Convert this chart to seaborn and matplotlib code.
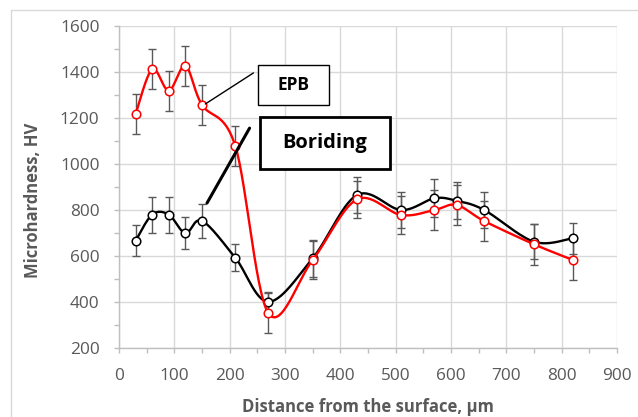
import numpy as np
import pandas as pd
import matplotlib
matplotlib.use("Agg")
import matplotlib.pyplot as plt
import seaborn as sns
from matplotlib.patches import Rectangle
from matplotlib.ticker import MultipleLocator

# ---- data ----
distance = [30, 60, 90, 120, 150, 210, 270, 350, 430, 510, 570, 610, 660, 750, 820]
boriding = [666, 780, 780, 699, 753, 593, 401, 590, 865, 800, 851, 840, 800, 662, 677]
boriding_err = [67, 78, 78, 69, 74, 58, 41, 80, 80, 80, 82, 80, 80, 75, 68]
epb = [1217, 1412, 1319, 1426, 1257, 1080, 351, 583, 846, 778, 800, 822, 752, 651, 583]
epb_err = [87, 87, 87, 87, 87, 87, 86, 82, 82, 82, 88, 87, 88, 88, 88]

x_ticks = [0, 100, 200, 300, 400, 500, 600, 700, 800, 900]
y_ticks = [200, 400, 600, 800, 1000, 1200, 1400, 1600]
x_label = "Distance from the surface, µm"
y_label = "Microhardness, HV"


def smooth(xs, ys, n=30):
    """Excel-style smoothed line (uniform Catmull-Rom / Bezier, parametric)."""
    P = np.column_stack([xs, ys]).astype(float)
    out = []
    m = len(P)
    for i in range(m - 1):
        p0 = P[i - 1] if i > 0 else P[i]
        p1 = P[i]
        p2 = P[i + 1]
        p3 = P[i + 2] if i + 2 < m else P[i + 1]
        c1 = p1 + (p2 - p0) / 6.0
        c2 = p2 - (p3 - p1) / 6.0
        t = np.linspace(0, 1, n, endpoint=(i == m - 2))[:, None]
        seg = ((1 - t) ** 3) * p1 + 3 * ((1 - t) ** 2) * t * c1 + 3 * (1 - t) * t ** 2 * c2 + t ** 3 * p2
        out.append(seg)
    out = np.vstack(out)
    return out[:, 0], out[:, 1]


sns.set_theme(style="white")
plt.rcParams['font.family'] = ['Open Sans', 'DejaVu Sans']

fig = plt.figure(figsize=(6.38, 4.17), dpi=100)
ax = fig.add_axes([119 / 638, 1 - 348 / 417, (617 - 119) / 638, (348 - 26) / 417])

grid_c = "#D9D9D9"
text_c = "#595959"
err_c = "#595959"

series = [("Boriding", boriding, boriding_err, "black"), ("EPB", epb, epb_err, "#FF0000")]

for name, vals, errs, col in series:
    ax.errorbar(distance, vals, yerr=errs, fmt="none", ecolor=err_c, elinewidth=1.0,
                capsize=3, capthick=1.0, zorder=3)

for i, (name, vals, errs, col) in enumerate(series):
    sx, sy = smooth(distance, vals)
    df = pd.DataFrame({"x": sx, "y": sy})
    sns.lineplot(data=df, x="x", y="y", sort=False, estimator=None, color=col,
                 linewidth=1.7, ax=ax, zorder=4 + 2 * i)
    pts = pd.DataFrame({"x": distance, "y": vals})
    sns.scatterplot(data=pts, x="x", y="y", ax=ax, s=38, facecolor="white",
                    edgecolor=col, linewidth=1.1, zorder=5 + 2 * i)

ax.set_xlim(0, 900)
ax.set_ylim(200, 1600)
ax.set_xticks(x_ticks)
ax.set_yticks(y_ticks)
ax.xaxis.set_minor_locator(MultipleLocator(50))
ax.yaxis.set_minor_locator(MultipleLocator(100))
ax.grid(True, which="major", color=grid_c, linewidth=1.0)
ax.set_axisbelow(True)
for s in ["top", "right"]:
    ax.spines[s].set_visible(False)
for s in ["left", "bottom"]:
    ax.spines[s].set_color("#BFBFBF")
    ax.spines[s].set_linewidth(1.0)
ax.tick_params(axis="both", which="both", direction="out", color="#BFBFBF",
               length=3.6, width=1.0, labelcolor=text_c, labelsize=12.4,
               left=True, bottom=True)
ax.tick_params(axis="x", which="major", pad=10.5)
ax.tick_params(axis="y", which="major", pad=10.5)
ax.set_xlabel(x_label, fontsize=12, fontweight="bold", color=text_c)
ax.set_ylabel(y_label, fontsize=12, fontweight="bold", color=text_c)
ax.xaxis.set_label_coords(0.5, (348 - 398) / 322)
ax.yaxis.set_label_coords((42 - 119) / 498, (348 - 200) / 322)

# annotations
ax.add_patch(Rectangle((252, 1256), 127, 174, facecolor="white", edgecolor="black",
                       linewidth=1.0, zorder=8, clip_on=False))
ax.text(315, 1343, "EPB", ha="center", va="center", fontsize=12.5, fontweight="bold",
        color="black", zorder=9)
ax.plot([243, 156], [1396, 1261], color="black", linewidth=1.0, zorder=8)

ax.add_patch(Rectangle((254, 978), 235, 226, facecolor="white", edgecolor="black",
                       linewidth=2.0, zorder=8, clip_on=False))
ax.text(371, 1091, "Boriding", ha="center", va="center", fontsize=14.5, fontweight="bold",
        color="black", zorder=9)
ax.plot([236, 159], [1156, 830], color="black", linewidth=2.2, zorder=8)

# outer chart border (top and left visible in reference)
fig.add_artist(plt.Line2D([11 / 638, 1], [1 - 10 / 417, 1 - 10 / 417], color="#D9D9D9",
                          linewidth=1.0, transform=fig.transFigure))
fig.add_artist(plt.Line2D([11 / 638, 11 / 638], [0, 1 - 10 / 417], color="#D9D9D9",
                          linewidth=1.0, transform=fig.transFigure))

fig.savefig("out.png", dpi=100)
